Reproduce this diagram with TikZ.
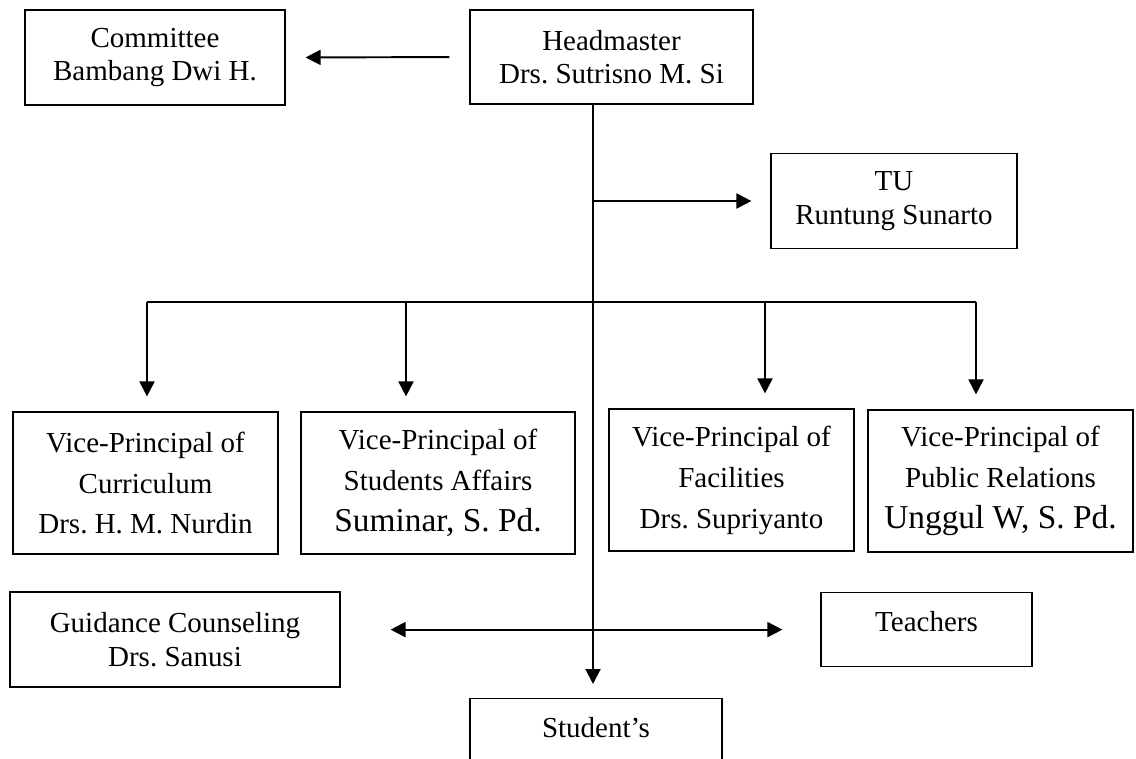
\documentclass[tikz,border=0pt]{standalone}
\usepackage{fontspec}
\setmainfont{Liberation Serif}
\usetikzlibrary{arrows.meta}
\frenchspacing

\tikzset{
  >={Triangle[length=0.3cm,width=0.3cm]},
  box/.style={draw,line width=0.7pt,align=center,inner sep=0pt,
    font=\fontsize{16.5}{19}\selectfont},
  vpbox/.style={box,minimum height=2.84cm,font=\fontsize{16.5}{23.3}\selectfont},
  onebox/.style={box,anchor=north,text height=0.78cm},
  link/.style={line width=1.1pt},
}
\newcommand{\bigname}[1]{{\fontsize{19}{23.3}\selectfont #1}}

\begin{document}
\begin{tikzpicture}[x=0.02cm,y=-0.02cm]
  \path[use as bounding box] (0,0) rectangle (1136,758);
  \node[box,minimum width=5.2cm,minimum height=1.9cm] (comm) at (155,57.5) {Committee\\Bambang Dwi H.};
  \node[box,minimum width=5.66cm,minimum height=1.88cm] (head) at (611.5,57) {Headmaster\\Drs. Sutrisno M. Si};
  \node[box,minimum width=4.92cm,minimum height=1.9cm] (tu) at (894,201) {TU\\Runtung Sunarto};
  \node[vpbox,minimum width=5.3cm] (vp1) at (145.5,483) {Vice-Principal of\\Curriculum\\Drs. H. M. Nurdin};
  \node[vpbox,minimum width=5.48cm] (vp2) at (438,483) {Vice-Principal of\\Students Affairs\\\bigname{Suminar, S. Pd.}};
  \node[vpbox,minimum width=4.9cm] (vp3) at (731.5,480) {Vice-Principal of\\Facilities\\Drs. Supriyanto};
  \node[vpbox,minimum width=5.3cm] (vp4) at (1000.5,481) {Vice-Principal of\\Public Relations\\\bigname{Unggul W, S. Pd.}};
  \node[box,minimum width=6.6cm,minimum height=1.9cm] (gc) at (175,639.5) {Guidance Counseling\\Drs. Sanusi};
  \node[onebox,minimum width=4.22cm,text depth=0.7cm] (teach) at (926.5,592) {Teachers};
  \node[onebox,minimum width=5.04cm,text depth=2cm] (stud) at (596,698) {Student’s};

  \coordinate (trunk) at (593,104);
  \coordinate (b1) at (147,302);
  \coordinate (b2) at (406,302);
  \coordinate (b3) at (765,302);
  \coordinate (b4) at (976,302);

  \draw[link,->,shorten <=0.4cm,shorten >=0.4cm] (head.west) -- (comm.east);
  \draw[link,->,shorten >=0.28cm] (trunk) -- (trunk |- stud.north);
  \draw[link,->,shorten >=0.38cm] (trunk |- tu.west) -- (tu.west);
  \draw[link] (b1) -- (b4);
  \foreach \i in {1,...,4}
    \draw[link,->,shorten >=0.3cm] (b\i) -- (b\i |- vp\i.north);
  \draw[link,<->,shorten <=1cm,shorten >=0.76cm] (gc.east |- teach.west) -- (teach.west);
\end{tikzpicture}
\end{document}
